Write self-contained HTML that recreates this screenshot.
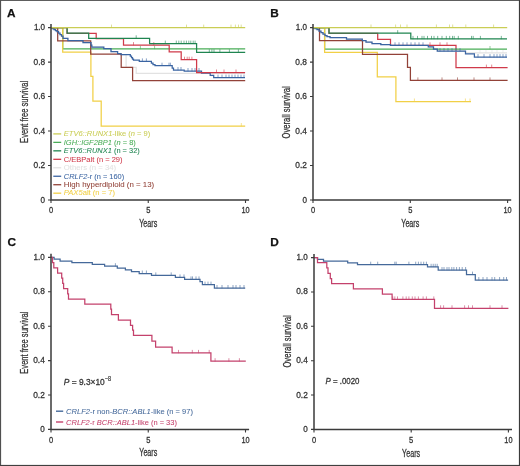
<!DOCTYPE html>
<html><head><meta charset="utf-8"><title>KM curves</title>
<style>html,body{margin:0;padding:0;background:#fff;overflow:hidden;}svg{display:block;will-change:transform;}text{font-family:"Liberation Sans",sans-serif;}</style></head><body>
<svg width="520" height="466" viewBox="0 0 520 466" font-family="Liberation Sans, sans-serif">
<rect x="0" y="0" width="520" height="466" fill="#ffffff"/>
<path d="M51,27.6H52.5V28.5H54V29.5H55.5V30.5H57V31.5H58.5V33H60V34.5H61.5V36H63V38.4H67.9V40.5H83V42.7H91V45H91.8V47.2H103.8V48.5H111V51.5H117.6V53.5H121V54.5H126.1V67.4H136.2V73.4H245" fill="none" stroke="#e2e2e2" stroke-width="1.25" />
<path d="M51,27.6H62.7V48.8H245.2" fill="none" stroke="#49ad57" stroke-width="1.25" />
<path d="M140.4,45.8V49.099999999999994 M154.6,45.8V49.099999999999994" fill="none" stroke="#49ad57" stroke-width="0.6"/>
<path d="M51,27.6H62.7V52H90.9V76.4H92.9V101H101.2V126H245.2" fill="none" stroke="#f1d046" stroke-width="1.25" />
<path d="M241.3,123.0V126.3" fill="none" stroke="#f1d046" stroke-width="0.6"/>
<path d="M51,27.6H57.7V40.8H90.7V54.1H121.2V67.4H132.6V80.5H245.2" fill="none" stroke="#924238" stroke-width="1.25" />
<path d="M51,27.6H52.5V28.5H54V29.5H55.5V30.5H57V31.5H58.5V33H60V34.5H61.5V36H63V38.4H67.9V40.5H83V42.7H91V45H91.8V47.2H103.8V48.5H111V51.5H117.6V53.5H121V54.5H130.3V56H131.5V57.5H132.5V59H133.5V60.1H139.3V61.4H151.4V63H153V64.5H155V65.7H172.2V68H173.5V70H184.2V71H201.5V73H210.2V75.3H213.7V77.6H245" fill="none" stroke="#3a64a2" stroke-width="1.25" />
<path d="M142.4,58.4V61.699999999999996 M146.4,58.4V61.699999999999996" fill="none" stroke="#3a64a2" stroke-width="0.6"/>
<path d="M162,62.7V66.0 M169,62.7V66.0 M170.4,62.7V66.0" fill="none" stroke="#3a64a2" stroke-width="0.6"/>
<path d="M178,67.0V70.3 M181,67.0V70.3" fill="none" stroke="#3a64a2" stroke-width="0.6"/>
<path d="M188,68.0V71.3 M192,68.0V71.3 M195,68.0V71.3 M199,68.0V71.3" fill="none" stroke="#3a64a2" stroke-width="0.6"/>
<path d="M218,74.6V77.89999999999999 M222,74.6V77.89999999999999 M226,74.6V77.89999999999999 M229,74.6V77.89999999999999 M232,74.6V77.89999999999999 M235,74.6V77.89999999999999 M238,74.6V77.89999999999999 M241,74.6V77.89999999999999 M244,74.6V77.89999999999999" fill="none" stroke="#3a64a2" stroke-width="0.6"/>
<path d="M51,27.6H67.1V33.3H96.2V38.6H123.5V45.1H169.2V51.9H181.2V59.7H196.6V72.5H245.1" fill="none" stroke="#d03a4a" stroke-width="1.25" />
<path d="M133.5,42.1V45.4 M153.8,42.1V45.4" fill="none" stroke="#d03a4a" stroke-width="0.6"/>
<path d="M216.5,69.5V72.8 M224,69.5V72.8 M236,69.5V72.8" fill="none" stroke="#d03a4a" stroke-width="0.6"/>
<path d="M184.5,56.7V60.0 M187.2,56.7V60.0 M189.2,56.7V60.0 M191.9,56.7V60.0" fill="none" stroke="#d03a4a" stroke-width="0.6"/>
<path d="M51,27.6H67.1V33.1H88.7V38.3H149.6V43.6H196.6V52.3H245.2" fill="none" stroke="#1f8550" stroke-width="1.25" />
<path d="M136.2,35.3V38.599999999999994" fill="none" stroke="#1f8550" stroke-width="0.6"/>
<path d="M165.3,40.6V43.9 M176.3,40.6V43.9 M178.8,40.6V43.9 M181.2,40.6V43.9 M184,40.6V43.9 M186.4,40.6V43.9 M188.8,40.6V43.9 M190.8,40.6V43.9 M193.2,40.6V43.9 M195.1,40.6V43.9" fill="none" stroke="#1f8550" stroke-width="0.6"/>
<path d="M209.3,49.3V52.599999999999994 M211.9,49.3V52.599999999999994 M214,49.3V52.599999999999994 M219.9,49.3V52.599999999999994 M229.4,49.3V52.599999999999994 M238.4,49.3V52.599999999999994" fill="none" stroke="#1f8550" stroke-width="0.6"/>
<path d="M51,27.6H245.2" fill="none" stroke="#cacd55" stroke-width="1.25" />
<path d="M111.5,24.6V27.900000000000002 M186.5,24.6V27.900000000000002 M203.7,24.6V27.900000000000002 M231,24.6V27.900000000000002 M235.4,24.6V27.900000000000002 M238.5,24.6V27.900000000000002 M241.2,24.6V27.900000000000002" fill="none" stroke="#cacd55" stroke-width="0.6"/>
<path d="M313,27.5H329V33.4H377.7V39.4H390.5V45.3H456V67.6H507.6" fill="none" stroke="#d03a4a" stroke-width="1.25" />
<path d="M430,42.3V45.599999999999994 M440,42.3V45.599999999999994 M447,42.3V45.599999999999994" fill="none" stroke="#d03a4a" stroke-width="0.6"/>
<path d="M486.4,64.6V67.89999999999999 M491.7,64.6V67.89999999999999" fill="none" stroke="#d03a4a" stroke-width="0.6"/>
<path d="M313,27.5H315V28.5H317V29.5H319V31H321V32.5H323V34H325V35.5H327V36.5H330V37.6H346.5V39H362.3V40.5H366V42H372V43.5H380.8V44.5H390.5V45.3H428.3V46.9H433.5V49H437.3V51.1H465.5V52.8H507" fill="none" stroke="#e2e2e2" stroke-width="1.25" />
<path d="M480,49.8V53.099999999999994 M486,49.8V53.099999999999994 M492,49.8V53.099999999999994 M497,49.8V53.099999999999994 M503,49.8V53.099999999999994" fill="none" stroke="#e2e2e2" stroke-width="0.6"/>
<path d="M313,27.5H324.6V49H507" fill="none" stroke="#49ad57" stroke-width="1.25" />
<path d="M490,46.0V49.3" fill="none" stroke="#49ad57" stroke-width="0.6"/>
<path d="M313,27.5H324.6V52.3H377.3V76.9H395.9V101.5H471" fill="none" stroke="#f1d046" stroke-width="1.25" />
<path d="M414.4,98.5V101.8 M465.4,98.5V101.8 M470,98.5V101.8" fill="none" stroke="#f1d046" stroke-width="0.6"/>
<path d="M313,27.5H319.5V40.5H362.5V54.3H407.5V67.3H410.4V80.4H507.6" fill="none" stroke="#924238" stroke-width="1.25" />
<path d="M417.9,77.4V80.7 M442,77.4V80.7 M457.5,77.4V80.7 M474,77.4V80.7 M490,77.4V80.7" fill="none" stroke="#924238" stroke-width="0.6"/>
<path d="M313,27.5H315V28.5H317V29.5H319V31H321V32.5H323V34H325V35.5H327V36.5H330V37.6H346.5V39H362.3V40.5H366V42H372V43.5H380.8V44.5H390.5V45.3H428.3V46.9H433.5V49H437.3V51.1H465.5V53.8H474.4V57.1H507" fill="none" stroke="#3a64a2" stroke-width="1.25" />
<path d="M395,42.3V45.599999999999994 M399,42.3V45.599999999999994 M403,42.3V45.599999999999994 M407,42.3V45.599999999999994 M411,42.3V45.599999999999994 M415,42.3V45.599999999999994 M419,42.3V45.599999999999994 M423,42.3V45.599999999999994" fill="none" stroke="#3a64a2" stroke-width="0.6"/>
<path d="M440,48.1V51.4 M444,48.1V51.4 M448,48.1V51.4 M452,48.1V51.4 M456,48.1V51.4 M460,48.1V51.4" fill="none" stroke="#3a64a2" stroke-width="0.6"/>
<path d="M478,54.1V57.4 M484,54.1V57.4 M490,54.1V57.4 M494,54.1V57.4 M497,54.1V57.4 M500,54.1V57.4 M503,54.1V57.4 M506,54.1V57.4" fill="none" stroke="#3a64a2" stroke-width="0.6"/>
<path d="M313,27.5H329V33.2H410.8V38.9H507" fill="none" stroke="#1f8550" stroke-width="1.25" />
<path d="M397.7,30.200000000000003V33.5" fill="none" stroke="#1f8550" stroke-width="0.6"/>
<path d="M413,35.9V39.199999999999996 M417.5,35.9V39.199999999999996 M422,35.9V39.199999999999996 M424,35.9V39.199999999999996 M427.5,35.9V39.199999999999996 M431.5,35.9V39.199999999999996 M434,35.9V39.199999999999996 M437.7,35.9V39.199999999999996 M442,35.9V39.199999999999996 M446.3,35.9V39.199999999999996 M449.7,35.9V39.199999999999996 M452.5,35.9V39.199999999999996 M454.2,35.9V39.199999999999996 M458.3,35.9V39.199999999999996 M471.5,35.9V39.199999999999996 M473.2,35.9V39.199999999999996 M480.4,35.9V39.199999999999996 M501.3,35.9V39.199999999999996" fill="none" stroke="#1f8550" stroke-width="0.6"/>
<path d="M313,27.5H507.2" fill="none" stroke="#cacd55" stroke-width="1.25" />
<path d="M371,24.5V27.8 M395.6,24.5V27.8 M400.5,24.5V27.8 M407,24.5V27.8 M436.4,24.5V27.8 M449.5,24.5V27.8 M452.7,24.5V27.8 M465.8,24.5V27.8 M493.6,24.5V27.8" fill="none" stroke="#cacd55" stroke-width="0.6"/>
<path d="M51,257.4H54.1V259.2H60.1V261.1H71.9V262.6H92.3V264.4H104.6V266.2H117.3V268.1H125.4V269.9H131.5V271.7H139.2V273.5H151.5V275.4H175.4V277.4H184.6V279.4H200V281.7H202.4V284.6H214.4V288H245.2" fill="none" stroke="#45699a" stroke-width="1.25" />
<path d="M115.4,263.2V266.5" fill="none" stroke="#45699a" stroke-width="0.6"/>
<path d="M142.3,270.5V273.8 M146.4,270.5V273.8" fill="none" stroke="#45699a" stroke-width="0.6"/>
<path d="M155.8,272.4V275.7 M171.2,272.4V275.7" fill="none" stroke="#45699a" stroke-width="0.6"/>
<path d="M180,274.4V277.7 M184,274.4V277.7" fill="none" stroke="#45699a" stroke-width="0.6"/>
<path d="M191,276.4V279.7 M192.5,276.4V279.7 M196,276.4V279.7 M199,276.4V279.7" fill="none" stroke="#45699a" stroke-width="0.6"/>
<path d="M205,281.6V284.90000000000003 M208,281.6V284.90000000000003 M211,281.6V284.90000000000003" fill="none" stroke="#45699a" stroke-width="0.6"/>
<path d="M217,285.0V288.3 M222,285.0V288.3 M228,285.0V288.3 M233,285.0V288.3 M236,285.0V288.3 M240,285.0V288.3 M244,285.0V288.3" fill="none" stroke="#45699a" stroke-width="0.6"/>
<path d="M51,257.4H52.5V262.6H53.8V267.8H57.6V273H61.7V278.2H62.7V283.4H63.6V288.6H67.7V293.8H68.5V299.2H84.8V304.2H110.8V309H111.5V314.6H118.4V320.2H130.5V325.4H132.6V330H133.5V335.3H151.9V341.1H155.6V347.1H172.1V352.9H210.9V361.2H245.8" fill="none" stroke="#c4416c" stroke-width="1.25" />
<path d="M178.5,349.9V353.2 M192.3,349.9V353.2 M198.5,349.9V353.2 M209.2,349.9V353.2" fill="none" stroke="#c4416c" stroke-width="0.6"/>
<path d="M215.1,358.2V361.5 M228.9,358.2V361.5 M239.4,358.2V361.5" fill="none" stroke="#c4416c" stroke-width="0.6"/>
<path d="M314,257.5H317.5V259.3H323.5V261.2H347.7V262.8H357.5V264.7H427.5V266.8H438.2V270H466.5V274.6H475.3V280H508.1" fill="none" stroke="#45699a" stroke-width="1.25" />
<path d="M370.7,261.7V265.0 M377.7,261.7V265.0 M394.8,261.7V265.0 M396.2,261.7V265.0 M408.9,261.7V265.0 M415.7,261.7V265.0 M418.4,261.7V265.0 M421,261.7V265.0 M423.7,261.7V265.0 M426.4,261.7V265.0" fill="none" stroke="#45699a" stroke-width="0.6"/>
<path d="M431.1,263.8V267.1 M433.2,263.8V267.1 M435.2,263.8V267.1 M437.2,263.8V267.1" fill="none" stroke="#45699a" stroke-width="0.6"/>
<path d="M442,267.0V270.3 M444,267.0V270.3 M447,267.0V270.3 M449,267.0V270.3 M451.8,267.0V270.3 M453.9,267.0V270.3 M456.6,267.0V270.3 M459.4,267.0V270.3 M462.2,267.0V270.3 M465.6,267.0V270.3" fill="none" stroke="#45699a" stroke-width="0.6"/>
<path d="M472.5,271.6V274.90000000000003" fill="none" stroke="#45699a" stroke-width="0.6"/>
<path d="M478.8,277.0V280.3 M483,277.0V280.3 M487,277.0V280.3 M492,277.0V280.3 M494.7,277.0V280.3 M499.6,277.0V280.3 M503.7,277.0V280.3 M506.5,277.0V280.3" fill="none" stroke="#45699a" stroke-width="0.6"/>
<path d="M314,257.5H317.5V262.7H326.8V267.8H328V273.3H330.3V278.5H331.6V283.6H353.4V288.8H382.4V294.1H392.1V299.4H434.5V308.3H508.4" fill="none" stroke="#c4416c" stroke-width="1.25" />
<path d="M392.8,296.4V299.7 M394.8,296.4V299.7 M397.5,296.4V299.7 M402.9,296.4V299.7 M406.2,296.4V299.7 M408.9,296.4V299.7 M412.3,296.4V299.7 M415,296.4V299.7 M418.4,296.4V299.7 M423.1,296.4V299.7 M426.4,296.4V299.7 M433.8,296.4V299.7" fill="none" stroke="#c4416c" stroke-width="0.6"/>
<path d="M440.6,305.3V308.6 M443.6,305.3V308.6 M452,305.3V308.6 M464.6,305.3V308.6 M468.5,305.3V308.6 M472.5,305.3V308.6 M490,305.3V308.6 M502,305.3V308.6" fill="none" stroke="#c4416c" stroke-width="0.6"/>
<path d="M51,24.0V200.0H249.1" fill="none" stroke="#3b3b3b" stroke-width="1.5"/>
<path d="M48,27.60H51M48,62.08H51M48,96.56H51M48,131.04H51M48,165.52H51M48,200.00H51M51.00,200.0V203.0M148.25,200.0V203.0M245.50,200.0V203.0" fill="none" stroke="#3b3b3b" stroke-width="1.1"/>
<text x="45.1" y="30.10" font-size="8.9" text-anchor="end" fill="#333333" stroke="#333333" stroke-width="0.28" font-weight="normal" font-style="normal" textLength="11.2" lengthAdjust="spacingAndGlyphs" >1.0</text>
<text x="45.1" y="64.58" font-size="8.9" text-anchor="end" fill="#333333" stroke="#333333" stroke-width="0.28" font-weight="normal" font-style="normal" textLength="11.6" lengthAdjust="spacingAndGlyphs" >0.8</text>
<text x="45.1" y="99.06" font-size="8.9" text-anchor="end" fill="#333333" stroke="#333333" stroke-width="0.28" font-weight="normal" font-style="normal" textLength="11.6" lengthAdjust="spacingAndGlyphs" >0.6</text>
<text x="45.1" y="133.54" font-size="8.9" text-anchor="end" fill="#333333" stroke="#333333" stroke-width="0.28" font-weight="normal" font-style="normal" textLength="11.6" lengthAdjust="spacingAndGlyphs" >0.4</text>
<text x="45.1" y="168.02" font-size="8.9" text-anchor="end" fill="#333333" stroke="#333333" stroke-width="0.28" font-weight="normal" font-style="normal" textLength="11.6" lengthAdjust="spacingAndGlyphs" >0.2</text>
<text x="45.1" y="202.50" font-size="8.9" text-anchor="end" fill="#333333" stroke="#333333" stroke-width="0.28" font-weight="normal" font-style="normal" textLength="4.5" lengthAdjust="spacingAndGlyphs" >0</text>
<text x="51.00" y="213.30" font-size="8.8" text-anchor="middle" fill="#333333" stroke="#333333" stroke-width="0.28" font-weight="normal" font-style="normal" textLength="4.2" lengthAdjust="spacingAndGlyphs" >0</text>
<text x="148.25" y="213.30" font-size="8.8" text-anchor="middle" fill="#333333" stroke="#333333" stroke-width="0.28" font-weight="normal" font-style="normal" textLength="4.2" lengthAdjust="spacingAndGlyphs" >5</text>
<text x="245.50" y="213.30" font-size="8.8" text-anchor="middle" fill="#333333" stroke="#333333" stroke-width="0.28" font-weight="normal" font-style="normal" textLength="8.2" lengthAdjust="spacingAndGlyphs" >10</text>
<text x="148.25" y="226.9" font-size="10.0" text-anchor="middle" fill="#333333" stroke="#333333" stroke-width="0.28" font-weight="normal" font-style="normal" textLength="18" lengthAdjust="spacingAndGlyphs" >Years</text>
<text transform="translate(27.9,111.9) rotate(-90)" x="0" y="0" font-size="10.2" text-anchor="middle" fill="#333333" stroke="#333333" stroke-width="0.28" textLength="62" lengthAdjust="spacingAndGlyphs">Event free survival</text>
<path d="M313,24.0V200.0H511.20000000000005" fill="none" stroke="#3b3b3b" stroke-width="1.5"/>
<path d="M310,27.60H313M310,62.08H313M310,96.56H313M310,131.04H313M310,165.52H313M310,200.00H313M313.00,200.0V203.0M410.30,200.0V203.0M507.60,200.0V203.0" fill="none" stroke="#3b3b3b" stroke-width="1.1"/>
<text x="306.9" y="30.10" font-size="8.9" text-anchor="end" fill="#333333" stroke="#333333" stroke-width="0.28" font-weight="normal" font-style="normal" textLength="11.2" lengthAdjust="spacingAndGlyphs" >1.0</text>
<text x="306.9" y="64.58" font-size="8.9" text-anchor="end" fill="#333333" stroke="#333333" stroke-width="0.28" font-weight="normal" font-style="normal" textLength="11.6" lengthAdjust="spacingAndGlyphs" >0.8</text>
<text x="306.9" y="99.06" font-size="8.9" text-anchor="end" fill="#333333" stroke="#333333" stroke-width="0.28" font-weight="normal" font-style="normal" textLength="11.6" lengthAdjust="spacingAndGlyphs" >0.6</text>
<text x="306.9" y="133.54" font-size="8.9" text-anchor="end" fill="#333333" stroke="#333333" stroke-width="0.28" font-weight="normal" font-style="normal" textLength="11.6" lengthAdjust="spacingAndGlyphs" >0.4</text>
<text x="306.9" y="168.02" font-size="8.9" text-anchor="end" fill="#333333" stroke="#333333" stroke-width="0.28" font-weight="normal" font-style="normal" textLength="11.6" lengthAdjust="spacingAndGlyphs" >0.2</text>
<text x="306.9" y="202.50" font-size="8.9" text-anchor="end" fill="#333333" stroke="#333333" stroke-width="0.28" font-weight="normal" font-style="normal" textLength="4.5" lengthAdjust="spacingAndGlyphs" >0</text>
<text x="313.00" y="213.30" font-size="8.8" text-anchor="middle" fill="#333333" stroke="#333333" stroke-width="0.28" font-weight="normal" font-style="normal" textLength="4.2" lengthAdjust="spacingAndGlyphs" >0</text>
<text x="410.30" y="213.30" font-size="8.8" text-anchor="middle" fill="#333333" stroke="#333333" stroke-width="0.28" font-weight="normal" font-style="normal" textLength="4.2" lengthAdjust="spacingAndGlyphs" >5</text>
<text x="507.60" y="213.30" font-size="8.8" text-anchor="middle" fill="#333333" stroke="#333333" stroke-width="0.28" font-weight="normal" font-style="normal" textLength="8.2" lengthAdjust="spacingAndGlyphs" >10</text>
<text x="410.30" y="226.6" font-size="10.0" text-anchor="middle" fill="#333333" stroke="#333333" stroke-width="0.28" font-weight="normal" font-style="normal" textLength="18" lengthAdjust="spacingAndGlyphs" >Years</text>
<text transform="translate(289.8,112.4) rotate(-90)" x="0" y="0" font-size="10.2" text-anchor="middle" fill="#333333" stroke="#333333" stroke-width="0.28" textLength="52.2" lengthAdjust="spacingAndGlyphs">Overall survival</text>
<path d="M51,253.79999999999998V429.4H249.1" fill="none" stroke="#3b3b3b" stroke-width="1.5"/>
<path d="M48,257.40H51M48,291.80H51M48,326.20H51M48,360.60H51M48,395.00H51M48,429.40H51M51.00,429.4V432.4M148.25,429.4V432.4M245.50,429.4V432.4" fill="none" stroke="#3b3b3b" stroke-width="1.1"/>
<text x="44.8" y="259.90" font-size="8.9" text-anchor="end" fill="#333333" stroke="#333333" stroke-width="0.28" font-weight="normal" font-style="normal" textLength="11.2" lengthAdjust="spacingAndGlyphs" >1.0</text>
<text x="44.8" y="294.30" font-size="8.9" text-anchor="end" fill="#333333" stroke="#333333" stroke-width="0.28" font-weight="normal" font-style="normal" textLength="11.6" lengthAdjust="spacingAndGlyphs" >0.8</text>
<text x="44.8" y="328.70" font-size="8.9" text-anchor="end" fill="#333333" stroke="#333333" stroke-width="0.28" font-weight="normal" font-style="normal" textLength="11.6" lengthAdjust="spacingAndGlyphs" >0.6</text>
<text x="44.8" y="363.10" font-size="8.9" text-anchor="end" fill="#333333" stroke="#333333" stroke-width="0.28" font-weight="normal" font-style="normal" textLength="11.6" lengthAdjust="spacingAndGlyphs" >0.4</text>
<text x="44.8" y="397.50" font-size="8.9" text-anchor="end" fill="#333333" stroke="#333333" stroke-width="0.28" font-weight="normal" font-style="normal" textLength="11.6" lengthAdjust="spacingAndGlyphs" >0.2</text>
<text x="44.8" y="431.90" font-size="8.9" text-anchor="end" fill="#333333" stroke="#333333" stroke-width="0.28" font-weight="normal" font-style="normal" textLength="4.5" lengthAdjust="spacingAndGlyphs" >0</text>
<text x="51.00" y="442.70" font-size="8.8" text-anchor="middle" fill="#333333" stroke="#333333" stroke-width="0.28" font-weight="normal" font-style="normal" textLength="4.2" lengthAdjust="spacingAndGlyphs" >0</text>
<text x="148.25" y="442.70" font-size="8.8" text-anchor="middle" fill="#333333" stroke="#333333" stroke-width="0.28" font-weight="normal" font-style="normal" textLength="4.2" lengthAdjust="spacingAndGlyphs" >5</text>
<text x="245.50" y="442.70" font-size="8.8" text-anchor="middle" fill="#333333" stroke="#333333" stroke-width="0.28" font-weight="normal" font-style="normal" textLength="8.2" lengthAdjust="spacingAndGlyphs" >10</text>
<text x="148.30" y="456.2" font-size="10.0" text-anchor="middle" fill="#333333" stroke="#333333" stroke-width="0.28" font-weight="normal" font-style="normal" textLength="18" lengthAdjust="spacingAndGlyphs" >Years</text>
<text transform="translate(27.8,342.6) rotate(-90)" x="0" y="0" font-size="10.2" text-anchor="middle" fill="#333333" stroke="#333333" stroke-width="0.28" textLength="62.2" lengthAdjust="spacingAndGlyphs">Event free survival</text>
<path d="M314,254.00000000000003V429.4H512.0" fill="none" stroke="#3b3b3b" stroke-width="1.5"/>
<path d="M311,257.60H314M311,291.96H314M311,326.32H314M311,360.68H314M311,395.04H314M311,429.40H314M314.00,429.4V432.4M411.20,429.4V432.4M508.40,429.4V432.4" fill="none" stroke="#3b3b3b" stroke-width="1.1"/>
<text x="307.8" y="260.10" font-size="8.9" text-anchor="end" fill="#333333" stroke="#333333" stroke-width="0.28" font-weight="normal" font-style="normal" textLength="11.2" lengthAdjust="spacingAndGlyphs" >1.0</text>
<text x="307.8" y="294.46" font-size="8.9" text-anchor="end" fill="#333333" stroke="#333333" stroke-width="0.28" font-weight="normal" font-style="normal" textLength="11.6" lengthAdjust="spacingAndGlyphs" >0.8</text>
<text x="307.8" y="328.82" font-size="8.9" text-anchor="end" fill="#333333" stroke="#333333" stroke-width="0.28" font-weight="normal" font-style="normal" textLength="11.6" lengthAdjust="spacingAndGlyphs" >0.6</text>
<text x="307.8" y="363.18" font-size="8.9" text-anchor="end" fill="#333333" stroke="#333333" stroke-width="0.28" font-weight="normal" font-style="normal" textLength="11.6" lengthAdjust="spacingAndGlyphs" >0.4</text>
<text x="307.8" y="397.54" font-size="8.9" text-anchor="end" fill="#333333" stroke="#333333" stroke-width="0.28" font-weight="normal" font-style="normal" textLength="11.6" lengthAdjust="spacingAndGlyphs" >0.2</text>
<text x="307.8" y="431.90" font-size="8.9" text-anchor="end" fill="#333333" stroke="#333333" stroke-width="0.28" font-weight="normal" font-style="normal" textLength="4.5" lengthAdjust="spacingAndGlyphs" >0</text>
<text x="314.00" y="442.70" font-size="8.8" text-anchor="middle" fill="#333333" stroke="#333333" stroke-width="0.28" font-weight="normal" font-style="normal" textLength="4.2" lengthAdjust="spacingAndGlyphs" >0</text>
<text x="411.20" y="442.70" font-size="8.8" text-anchor="middle" fill="#333333" stroke="#333333" stroke-width="0.28" font-weight="normal" font-style="normal" textLength="4.2" lengthAdjust="spacingAndGlyphs" >5</text>
<text x="508.40" y="442.70" font-size="8.8" text-anchor="middle" fill="#333333" stroke="#333333" stroke-width="0.28" font-weight="normal" font-style="normal" textLength="8.2" lengthAdjust="spacingAndGlyphs" >10</text>
<text x="411.10" y="456.5" font-size="10.0" text-anchor="middle" fill="#333333" stroke="#333333" stroke-width="0.28" font-weight="normal" font-style="normal" textLength="18" lengthAdjust="spacingAndGlyphs" >Years</text>
<text transform="translate(290.8,341.4) rotate(-90)" x="0" y="0" font-size="10.2" text-anchor="middle" fill="#333333" stroke="#333333" stroke-width="0.28" textLength="52.4" lengthAdjust="spacingAndGlyphs">Overall survival</text>
<text x="7.0" y="16.8" font-size="11.8" text-anchor="start" fill="#111" stroke="#111" stroke-width="0.25" font-weight="bold" font-style="normal" >A</text>
<text x="270.2" y="16.7" font-size="11.8" text-anchor="start" fill="#111" stroke="#111" stroke-width="0.25" font-weight="bold" font-style="normal" >B</text>
<text x="7.4" y="245.9" font-size="11.8" text-anchor="start" fill="#111" stroke="#111" stroke-width="0.25" font-weight="bold" font-style="normal" >C</text>
<text x="270.3" y="245.9" font-size="11.8" text-anchor="start" fill="#111" stroke="#111" stroke-width="0.25" font-weight="bold" font-style="normal" >D</text>
<path d="M53.3,133.90H61.2" stroke="#cacd55" stroke-width="1.3"/>
<text x="63.8" y="136.20" font-size="7.0" text-anchor="start" fill="#cacd55" stroke="#cacd55" stroke-width="0.05" font-weight="normal" font-style="normal" textLength="86.4" lengthAdjust="spacingAndGlyphs" ><tspan font-style="italic">ETV6::RUNX1</tspan>-like (<tspan font-style="italic">n</tspan> = 9)</text>
<path d="M53.3,142.37H61.2" stroke="#49ad57" stroke-width="1.3"/>
<text x="63.8" y="144.67" font-size="7.0" text-anchor="start" fill="#49ad57" stroke="#49ad57" stroke-width="0.05" font-weight="normal" font-style="normal" textLength="72.0" lengthAdjust="spacingAndGlyphs" ><tspan font-style="italic">IGH::IGF2BP1</tspan> (<tspan font-style="italic">n</tspan> = 8)</text>
<path d="M53.3,150.84H61.2" stroke="#1f8550" stroke-width="1.3"/>
<text x="63.8" y="153.14" font-size="7.0" text-anchor="start" fill="#1f8550" stroke="#1f8550" stroke-width="0.05" font-weight="normal" font-style="normal" textLength="76.0" lengthAdjust="spacingAndGlyphs" ><tspan font-style="italic">ETV6::RUNX1</tspan> (n = 32)</text>
<path d="M53.3,159.31H61.2" stroke="#d03a4a" stroke-width="1.3"/>
<text x="63.8" y="161.61" font-size="7.0" text-anchor="start" fill="#d03a4a" stroke="#d03a4a" stroke-width="0.05" font-weight="normal" font-style="normal" textLength="58.7" lengthAdjust="spacingAndGlyphs" >C/EBPalt (n = 29)</text>
<path d="M53.3,167.78H61.2" stroke="#e2e2e2" stroke-width="1.3"/>
<text x="63.8" y="170.08" font-size="7.0" text-anchor="start" fill="#e2e2e2" stroke="#e2e2e2" stroke-width="0.05" font-weight="normal" font-style="normal" textLength="52.3" lengthAdjust="spacingAndGlyphs" >Others (n = 34)</text>
<path d="M53.3,176.25H61.2" stroke="#3a64a2" stroke-width="1.3"/>
<text x="63.8" y="178.55" font-size="7.0" text-anchor="start" fill="#3a64a2" stroke="#3a64a2" stroke-width="0.05" font-weight="normal" font-style="normal" textLength="60.4" lengthAdjust="spacingAndGlyphs" ><tspan font-style="italic">CRLF2</tspan>-r (n = 160)</text>
<path d="M53.3,184.72H61.2" stroke="#924238" stroke-width="1.3"/>
<text x="63.8" y="187.02" font-size="7.0" text-anchor="start" fill="#924238" stroke="#924238" stroke-width="0.05" font-weight="normal" font-style="normal" textLength="90.4" lengthAdjust="spacingAndGlyphs" >High hyperdiploid (n = 13)</text>
<path d="M53.3,193.19H61.2" stroke="#f1d046" stroke-width="1.3"/>
<text x="63.8" y="195.49" font-size="7.0" text-anchor="start" fill="#f1d046" stroke="#f1d046" stroke-width="0.05" font-weight="normal" font-style="normal" textLength="51.2" lengthAdjust="spacingAndGlyphs" ><tspan font-style="italic">PAX5</tspan>alt (n = 7)</text>
<path d="M56,411.2H63.2" stroke="#45699a" stroke-width="1.4"/>
<text x="66.1" y="413.80" font-size="7.6" text-anchor="start" fill="#45699a" stroke="#45699a" stroke-width="0.05" font-weight="normal" font-style="normal" textLength="126.9" lengthAdjust="spacingAndGlyphs" ><tspan font-style="italic">CRLF2</tspan>-r non-<tspan font-style="italic">BCR::ABL1</tspan>-like (n = 97)</text>
<path d="M56,422.0H63.2" stroke="#c4416c" stroke-width="1.4"/>
<text x="66.1" y="424.60" font-size="7.6" text-anchor="start" fill="#c4416c" stroke="#c4416c" stroke-width="0.05" font-weight="normal" font-style="normal" textLength="110.8" lengthAdjust="spacingAndGlyphs" ><tspan font-style="italic">CRLF2</tspan>-r <tspan font-style="italic">BCR::ABL1</tspan>-like (n = 33)</text>
<text x="63.8" y="384.6" font-size="9.0" text-anchor="start" fill="#333333" stroke="#333333" stroke-width="0.28" font-weight="normal" font-style="normal" textLength="41.0" lengthAdjust="spacingAndGlyphs" ><tspan font-style="italic">P</tspan> = 9.3×10</text>
<text x="104.9" y="380.9" font-size="6.6" text-anchor="start" fill="#333333" stroke="#333333" stroke-width="0.2" font-weight="normal" font-style="normal" textLength="6.3" lengthAdjust="spacingAndGlyphs" >−8</text>
<text x="325.5" y="384.2" font-size="9.0" text-anchor="start" fill="#333333" stroke="#333333" stroke-width="0.28" font-weight="normal" font-style="normal" textLength="34" lengthAdjust="spacingAndGlyphs" ><tspan font-style="italic">P</tspan> = .0020</text>
<rect x="0" y="0" width="520" height="1" fill="#5e5e5e"/>
<rect x="0" y="0" width="1.1" height="466" fill="#505050"/>
<rect x="518.9" y="0" width="1.1" height="466" fill="#3a3a3a"/>
<rect x="0" y="464.9" width="520" height="1.1" fill="#404040"/>
</svg>
</body></html>
